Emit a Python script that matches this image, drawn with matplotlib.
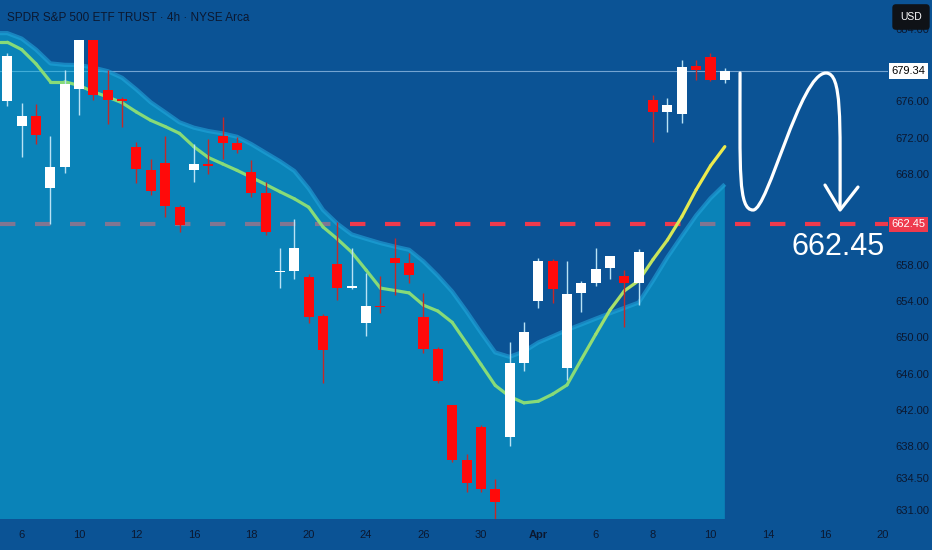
import matplotlib.pyplot as plt
import numpy as np
from matplotlib.path import Path
from matplotlib.patches import PathPatch
from matplotlib.collections import LineCollection

# 4h candles, oldest first
opens = [676.0, 673.3, 674.4, 666.4, 668.8, 677.4, 682.7, 677.25, 676.25, 671.0,
         668.45, 669.2, 664.4, 668.4, 669.15, 672.2, 671.45, 668.25, 665.9, 657.15,
         657.3, 656.7, 652.35, 658.1, 655.45, 651.55, 653.5, 658.8, 658.15, 652.2,
         648.7, 642.55, 636.55, 640.1, 633.3, 639.05, 647.2, 654.05, 658.45, 646.6,
         654.85, 656.0, 657.6, 656.75, 656.0, 676.15, 674.8, 674.6, 679.9, 680.85, 678.35]
highs = [681.3, 675.85, 675.7, 672.2, 679.5, 682.7, 682.7, 679.45, 676.5, 671.55,
         669.7, 672.2, 664.6, 671.3, 671.9, 674.3, 672.1, 669.5, 667.15, 659.8,
         663.0, 657.0, 652.6, 662.75, 659.8, 657.1, 656.75, 661.0, 659.35, 654.9,
         648.9, 642.6, 637.2, 640.3, 634.4, 649.5, 651.7, 658.7, 658.6, 658.4,
         656.25, 659.8, 659.0, 657.4, 659.7, 676.7, 676.35, 680.55, 680.55, 681.35, 679.65]
lows = [675.5, 669.85, 671.3, 662.5, 668.1, 674.5, 676.1, 673.5, 673.2, 667.0,
        665.7, 663.3, 661.65, 667.15, 668.0, 669.7, 670.3, 665.5, 661.3, 655.4,
        656.4, 651.6, 644.95, 654.1, 655.3, 650.2, 652.65, 654.65, 655.95, 648.3,
        645.0, 636.3, 633.0, 633.0, 630.0, 638.0, 646.3, 653.2, 653.75, 645.3,
        652.8, 655.7, 656.4, 651.2, 653.6, 671.55, 672.65, 673.65, 678.3, 678.2, 678.05]
closes = [681.0, 674.4, 672.3, 668.8, 677.9, 682.7, 676.7, 676.15, 676.0, 668.55,
          666.1, 664.5, 662.4, 669.1, 668.9, 671.45, 670.65, 665.9, 661.65, 657.3,
          659.9, 652.3, 648.6, 655.4, 655.6, 653.5, 653.3, 658.2, 656.85, 648.7,
          645.2, 636.55, 634.0, 633.3, 631.85, 647.15, 650.55, 658.4, 655.3, 654.8,
          656.0, 657.5, 658.95, 655.95, 659.4, 674.85, 675.65, 679.8, 679.5, 678.35, 679.34]

# band edge (filled area) and moving average
band = [683.51, 682.91, 681.70, 680.18, 680.02, 680.0, 679.71, 679.32, 678.59, 677.30,
        675.89, 674.80, 673.69, 673.10, 672.73, 672.47, 672.10, 671.29, 670.34, 669.40,
        668.33, 666.40, 664.03, 662.52, 661.34, 660.86, 660.39, 660.00, 659.65, 658.37,
        656.80, 655.05, 652.87, 650.55, 648.34, 647.86, 648.45, 649.44, 650.12, 650.82,
        651.43, 652.06, 652.66, 653.25, 653.84, 656.26, 658.84, 661.16, 663.42, 665.32, 666.86]
ema = [682.51, 681.70, 680.13, 678.16, 678.16, 677.74, 677.05, 676.48, 675.84, 674.82,
       673.90, 673.22, 672.47, 671.00, 669.82, 669.11, 668.40, 667.63, 666.85, 666.04,
       665.27, 664.34, 662.16, 660.84, 659.38, 657.42, 655.43, 655.17, 654.90, 653.55,
       652.90, 651.66, 649.36, 647.04, 644.71, 643.50, 642.79, 642.97, 643.75, 644.76,
       647.57, 650.33, 653.02, 655.13, 656.25, 658.59, 660.73, 663.29, 666.26, 668.89, 671.01]

date_ticks = [1, 5, 9, 13, 17, 21, 25, 29, 33, 37, 41, 45, 49, 53, 57, 61]
date_labels = ['6', '10', '12', '16', '18', '20', '24', '26', '30', 'Apr',
               '6', '8', '10', '14', '16', '20']
price_ticks = [684, 676, 672, 668, 658, 654, 650, 646, 642, 638, 634.5, 631]
price_labels = ['684.00', '676.00', '672.00', '668.00', '658.00', '654.00', '650.00',
                '646.00', '642.00', '638.00', '634.50', '631.00']
last_price = 679.34
target = 662.45

BG = '#0b5395'
FILL = '#0ab8df'
TXT = '#0b1830'
FONT = ['Liberation Sans', 'DejaVu Sans']

fig = plt.figure(figsize=(9.32, 5.5), dpi=100, facecolor=BG)
ax = fig.add_axes([0, 31 / 550, 888 / 932, 519 / 550])
ax.set_facecolor(BG)
x0, x1 = -0.51, 61.37
ax.set_xlim(x0, x1)
ax.set_ylim(630.0, 687.16)
for s in ax.spines.values():
    s.set_visible(False)

idx = np.arange(len(closes))

# target level, under the translucent band
ax.axhline(target, color='#ee3a4d', lw=3, linestyle=(0, (3.7, 4.7)), zorder=1)
ax.axhline(last_price, color='#8fb9e2', lw=0.8, alpha=0.8, zorder=1)

bx = np.r_[x0, idx]
by = np.r_[band[0], band]
ax.fill_between(bx, by, 600, color=FILL, alpha=0.48, lw=0, zorder=2)
ax.plot(bx, by, color='#22a6dc', lw=3.0, alpha=0.6, zorder=3, solid_capstyle='butt')

# moving average, green turning yellow at the end
ex = np.r_[x0, idx]
ey = np.r_[ema[0], ema]
pts = np.column_stack([ex, ey])
segs = np.stack([pts[:-1], pts[1:]], axis=1)
green = np.array([0.53, 0.86, 0.47])
yellow = np.array([0.93, 0.92, 0.30])
t = np.clip((ex[:-1] - 39) / 9, 0, 1)[:, None]
seg_colors = green * (1 - t) + yellow * t
ax.add_collection(LineCollection(segs, colors=seg_colors, linewidths=2.3, zorder=4,
                                 capstyle='round'))

# candles
o = np.array(opens)
c = np.array(closes)
up = c >= o
wick_colors = np.where(up, '#b9e2f5', '#c62828')
body_colors = np.where(up, '#ffffff', '#ff0a0a')
ax.vlines(idx, lows, highs, colors=wick_colors, lw=1.0, zorder=5)
ax.bar(idx, np.maximum(np.abs(c - o), 0.2), bottom=np.minimum(o, c), width=0.7,
       color=body_colors, lw=0, zorder=6)

# hand-drawn arrow to the target
verts = [(51.06, 679.12),
         (51.06, 668.44), (50.92, 664.03), (51.97, 664.03),
         (53.01, 664.03), (55.24, 679.12), (57.05, 679.12),
         (58.17, 679.12), (58.03, 673.94), (58.03, 664.25)]
codes = [Path.MOVETO] + [Path.CURVE4] * 9
ax.add_patch(PathPatch(Path(verts, codes), fc='none', ec='white', lw=2.3,
                       capstyle='round', zorder=7))
ax.plot([56.98, 58.03, 59.28], [666.78, 664.03, 666.56], color='white', lw=2.3,
        solid_joinstyle='round', solid_capstyle='round', zorder=7)
ax.text(61.16, 660.0, '662.45', color='white', fontsize=22, family=FONT,
        ha='right', va='center', zorder=7)

# axes
ax.set_xticks(date_ticks)
ax.set_xticklabels(date_labels, family=FONT, fontsize=8, color=TXT)
for lab in ax.get_xticklabels():
    if lab.get_text() == 'Apr':
        lab.set_fontweight('bold')
ax.yaxis.tick_right()
ax.set_yticks(price_ticks)
ax.set_yticklabels(price_labels, family=FONT, fontsize=8, color=TXT)
ax.tick_params(axis='x', length=0, pad=8)
ax.tick_params(axis='y', length=0, pad=5)

ytr = ax.get_yaxis_transform()
ax.text(1.004, last_price, '679.34', transform=ytr, family=FONT, fontsize=8,
        color='black', ha='left', va='center', clip_on=False, zorder=10,
        bbox=dict(boxstyle='square,pad=0.25', fc='white', ec='none'))
ax.text(1.004, target, '662.45', transform=ytr, family=FONT, fontsize=8,
        color='white', ha='left', va='center', clip_on=False, zorder=10,
        bbox=dict(boxstyle='square,pad=0.25', fc='#ee3a4d', ec='none'))

fig.text(7 / 932, 1 - 18 / 550, 'SPDR S&P 500 ETF TRUST · 4h · NYSE Arca',
         family=FONT, fontsize=8.5, color=TXT, ha='left', va='center')
fig.text(911 / 932, 1 - 17 / 550, 'USD', family=FONT, fontsize=7.5, color='white',
         ha='center', va='center',
         bbox=dict(boxstyle='round,pad=0.75,rounding_size=0.35', fc='#0f1217', ec='none'))

fig.savefig('out.png', dpi=100, facecolor=BG)
